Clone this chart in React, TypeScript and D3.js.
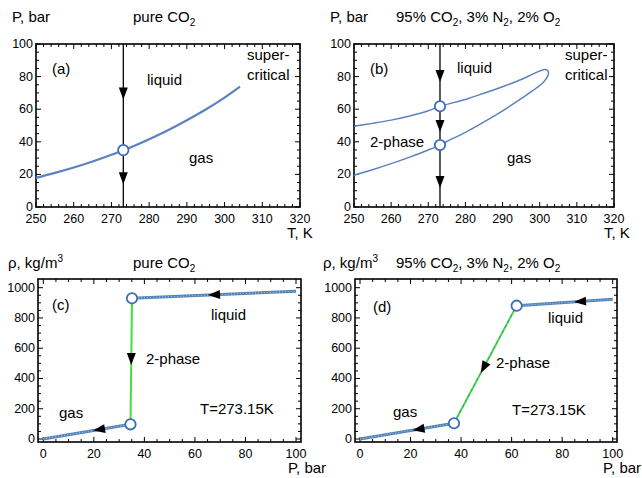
import React, { useEffect, useRef } from 'react';
import * as d3 from 'd3';

// (a) saturation curve of pure CO2: T [K], P [bar]
const satT = [250, 255, 260, 265, 270, 273.15, 275, 280, 285, 290, 295, 300, 304.1];
const satP = [17.9, 20.9, 24.2, 27.9, 32.0, 34.9, 36.5, 41.6, 47.1, 53.2, 59.8, 67.1, 73.8];

// (b) phase envelope of the mixture (bubble branch, then dew branch back)
const envT = [250, 255, 260, 265, 270, 273.15, 280, 285, 290, 295, 298, 300, 301.5, 302.3, 302.2, 301, 298, 295, 290, 285, 280, 275, 273.15, 270, 265, 260, 255, 250];
const envP = [49.5, 51.3, 53.3, 55.8, 59.0, 61.8, 66.0, 69.8, 73.8, 78.2, 81.4, 83.4, 84.3, 83.2, 80.5, 76.5, 71.2, 66.5, 59.0, 52.2, 45.8, 40.2, 38.0, 35.0, 30.6, 26.6, 22.9, 19.5];

const isoT = 273.15;
const pointsA = [34.9];
const pointsB = [61.8, 38.0];
const arrowsA = [66, 14];
const arrowsB = [76.7, 46, 11.6];

// (c),(d) density along the isotherm: P [bar], rho [kg/m3]
const gasC = { P: [0, 34.5], rho: [0, 97] };
const twoC = { P: [34.5, 35.1], rho: [97, 930] };
const liqC = { P: [35.1, 100], rho: [930, 976] };
const gasD = { P: [0, 37.2], rho: [0, 104] };
const twoD = { P: [37.2, 62.0], rho: [104, 881] };
const liqD = { P: [62.0, 100], rho: [881, 923] };
const arrowsC = { liq: 65.2, two: 489, gas: 19.7 };
const arrowsD = { liq: 84.7, two: 47.8, gas: 20.8 };

const tTicks = [250, 260, 270, 280, 290, 300, 310, 320];
const pTicks = [0, 20, 40, 60, 80, 100];
const rhoTicks = [0, 200, 400, 600, 800, 1000];

const LBL = '"Liberation Sans", Arial, sans-serif';
const BLUE = '#5b82c0';
const LINE = '#5485b8';
const GREEN = '#3fe03f';

function frame(g, x, y, box, xt, yt, xMinor, yMinor) {
  const [x0, x1, y0, y1] = box;
  g.append('rect').attr('x', x0).attr('y', y0).attr('width', x1 - x0).attr('height', y1 - y0)
    .attr('fill', 'none').attr('stroke', '#000').attr('stroke-width', 1.6);
  const xm = d3.range(x.domain()[0], x.domain()[1] + 1e-9, xMinor);
  const ym = d3.range(y.domain()[0], y.domain()[1] + 1e-9, yMinor);
  xm.forEach(v => {
    const len = xt.includes(v) ? 5 : 3;
    const px = x(v);
    if (px < x0 || px > x1) return;
    g.append('line').attr('x1', px).attr('x2', px).attr('y1', y1).attr('y2', y1 - len).attr('stroke', '#000');
    g.append('line').attr('x1', px).attr('x2', px).attr('y1', y0).attr('y2', y0 + len).attr('stroke', '#000');
  });
  ym.forEach(v => {
    const len = yt.includes(v) ? 5 : 3;
    const py = y(v);
    if (py < y0 || py > y1) return;
    g.append('line').attr('y1', py).attr('y2', py).attr('x1', x0).attr('x2', x0 + len).attr('stroke', '#000');
    g.append('line').attr('y1', py).attr('y2', py).attr('x1', x1).attr('x2', x1 - len).attr('stroke', '#000');
  });
  xt.forEach(v => {
    g.append('text').attr('x', x(v)).attr('y', y1 + 15.5).attr('text-anchor', 'middle')
      .attr('font-family', LBL).attr('font-size', 12.5).text(v);
  });
  yt.forEach(v => {
    g.append('text').attr('x', x0 - 3).attr('y', y(v) + 4).attr('text-anchor', 'end')
      .attr('font-family', LBL).attr('font-size', 12.5).text(v);
  });
}

function label(g, x, y, s, size = 15) {
  g.append('text').attr('x', x).attr('y', y).attr('font-family', LBL).attr('font-size', size).text(s);
}

// text with subscripts: parts = [[text, kind?], ...]
function rich(g, x, y, parts) {
  const t = g.append('text').attr('x', x).attr('y', y).attr('font-family', LBL).attr('font-size', 15);
  parts.forEach(([s, kind]) => {
    if (kind === 'sub') t.append('tspan').attr('font-size', 10).attr('dy', 4).text(s);
    else if (kind === 'sup') t.append('tspan').attr('font-size', 10).attr('dy', -6).text(s);
    else t.append('tspan').attr('dy', kind === 'back' ? -4 : 0).text(s);
  });
}

// filled arrowhead with tip at (px,py), pointing in screen angle ang
function arrow(g, px, py, ang) {
  const L = 12, W = 4.5;
  const pts = [[0, 0], [-L, -W], [-L, W]].map(([a, b]) => [
    px + a * Math.cos(ang) - b * Math.sin(ang),
    py + a * Math.sin(ang) + b * Math.cos(ang)
  ]);
  g.append('path').attr('d', 'M' + pts.join('L') + 'Z').attr('fill', '#000');
}

function circ(g, px, py) {
  g.append('circle').attr('cx', px).attr('cy', py).attr('r', 5.2)
    .attr('fill', '#fff').attr('stroke', '#3e6db5').attr('stroke-width', 1.8);
}

function seg(g, x, y, s, color, w) {
  const line = d3.line().x(d => x(d[0])).y(d => y(d[1]));
  return g.append('path').attr('d', line(s.P.map((p, i) => [p, s.rho[i]])))
    .attr('fill', 'none').attr('stroke', color).attr('stroke-width', w);
}

function blueSeg(g, x, y, s) {
  seg(g, x, y, s, LINE, 3);
  seg(g, x, y, s, '#a9c8e6', 1).attr('stroke-dasharray', '1 2');
}

function arrowOnSeg(g, x, y, s, P, byRho) {
  const ax = x(s.P[0]), ay = y(s.rho[0]), bx = x(s.P[1]), by = y(s.rho[1]);
  let t;
  if (byRho) t = (P - s.rho[1]) / (s.rho[0] - s.rho[1]);
  else t = (P - s.P[1]) / (s.P[0] - s.P[1]);
  const px = bx + (ax - bx) * t, py = by + (ay - by) * t;
  arrow(g, px, py, Math.atan2(ay - by, ax - bx));
}

function isoPanel(g, x, y, points, arrows) {
  g.append('line').attr('x1', x(isoT)).attr('x2', x(isoT)).attr('y1', y(100)).attr('y2', y(0))
    .attr('stroke', '#000').attr('stroke-width', 1.3);
  arrows.forEach(p => arrow(g, x(isoT), y(p), Math.PI / 2));
  points.forEach(p => circ(g, x(isoT), y(p)));
}

export default function App() {
  const ref = useRef(null);
  useEffect(() => {
    const svg = d3.select(ref.current);
    svg.selectAll('*').remove();
    svg.append('rect').attr('width', 642).attr('height', 478).attr('fill', '#fff');
    const g = svg.append('g');
    const line = d3.line().curve(d3.curveCatmullRom);

    // (a)
    const xa = d3.scaleLinear().domain([250, 320]).range([36, 300]);
    const ya = d3.scaleLinear().domain([0, 100]).range([207, 44]);
    frame(g, xa, ya, [36, 300, 44, 207], tTicks, pTicks, 2, 5);
    g.append('path').attr('d', line(satT.map((t, i) => [xa(t), ya(satP[i])])))
      .attr('fill', 'none').attr('stroke', BLUE).attr('stroke-width', 2.2);
    isoPanel(g, xa, ya, pointsA, arrowsA);
    label(g, 52, 74, '(a)');
    label(g, 147, 85, 'liquid');
    label(g, 247, 60, 'super-');
    label(g, 247, 80, 'critical');
    label(g, 189, 163, 'gas');
    label(g, 12, 22, 'P, bar');
    rich(g, 133, 22, [['pure CO'], ['2', 'sub']]);
    label(g, 287, 238, 'T, K');

    // (b)
    const xb = d3.scaleLinear().domain([250, 320]).range([354, 614]);
    const yb = d3.scaleLinear().domain([0, 100]).range([207, 44]);
    frame(g, xb, yb, [354, 614, 44, 207], tTicks, pTicks, 2, 5);
    g.append('path').attr('d', line(envT.map((t, i) => [xb(t), yb(envP[i])])))
      .attr('fill', 'none').attr('stroke', BLUE).attr('stroke-width', 1.5);
    isoPanel(g, xb, yb, pointsB, arrowsB);
    label(g, 370, 74, '(b)');
    label(g, 457, 73, 'liquid');
    label(g, 565, 60, 'super-');
    label(g, 565, 80, 'critical');
    label(g, 370, 147, '2-phase');
    label(g, 507, 163, 'gas');
    label(g, 330, 22, 'P, bar');
    rich(g, 396, 22, [['95% CO'], ['2', 'sub'], [', 3% N', 'back'], ['2', 'sub'], [', 2% O', 'back'], ['2', 'sub']]);
    label(g, 604, 238, 'T, K');

    // (c)
    const xc = d3.scaleLinear().domain([0, 100]).range([43.3, 296]);
    const yc = d3.scaleLinear().domain([0, 1000]).range([439, 287.7]);
    frame(g, xc, yc, [38, 301, 279, 442], pTicks, rhoTicks, 5, 50);
    blueSeg(g, xc, yc, gasC);
    blueSeg(g, xc, yc, liqC);
    seg(g, xc, yc, twoC, GREEN, 2);
    arrowOnSeg(g, xc, yc, liqC, arrowsC.liq, false);
    arrowOnSeg(g, xc, yc, twoC, arrowsC.two, true);
    arrowOnSeg(g, xc, yc, gasC, arrowsC.gas, false);
    circ(g, xc(twoC.P[0]), yc(twoC.rho[0]));
    circ(g, xc(twoC.P[1]), yc(twoC.rho[1]));
    label(g, 52, 310, '(c)');
    label(g, 211, 320, 'liquid');
    label(g, 146, 364, '2-phase');
    label(g, 200, 414, 'T=273.15K');
    label(g, 59, 418, 'gas');
    rich(g, 8, 268, [['ρ, kg/m'], ['3', 'sup']]);
    rich(g, 133, 268, [['pure CO'], ['2', 'sub']]);
    label(g, 288, 473, 'P, bar');

    // (d)
    const xd = d3.scaleLinear().domain([0, 100]).range([360, 612.7]);
    const yd = d3.scaleLinear().domain([0, 1000]).range([439, 287.7]);
    frame(g, xd, yd, [355, 617, 279, 442], pTicks, rhoTicks, 5, 50);
    blueSeg(g, xd, yd, gasD);
    blueSeg(g, xd, yd, liqD);
    seg(g, xd, yd, twoD, GREEN, 2);
    seg(g, xd, yd, twoD, LINE, 1).attr('stroke-dasharray', '3 3');
    arrowOnSeg(g, xd, yd, liqD, arrowsD.liq, false);
    arrowOnSeg(g, xd, yd, twoD, arrowsD.two, false);
    arrowOnSeg(g, xd, yd, gasD, arrowsD.gas, false);
    circ(g, xd(twoD.P[0]), yd(twoD.rho[0]));
    circ(g, xd(twoD.P[1]), yd(twoD.rho[1]));
    label(g, 373, 312, '(d)');
    label(g, 548, 323, 'liquid');
    label(g, 496, 368, '2-phase');
    label(g, 512, 415, 'T=273.15K');
    label(g, 393, 417, 'gas');
    rich(g, 323, 268, [['ρ, kg/m'], ['3', 'sup']]);
    rich(g, 396, 268, [['95% CO'], ['2', 'sub'], [', 3% N', 'back'], ['2', 'sub'], [', 2% O', 'back'], ['2', 'sub']]);
    label(g, 603, 473, 'P, bar');
  }, []);

  return (
    <div style={{ position: 'absolute', left: 0, top: 0 }}>
      <svg ref={ref} width={642} height={478} style={{ display: 'block' }} />
    </div>
  );
}
